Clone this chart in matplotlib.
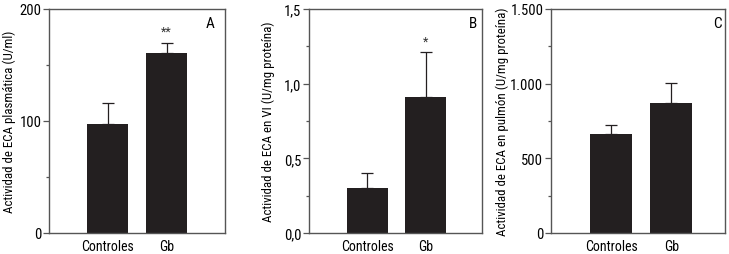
import matplotlib
matplotlib.use("Agg")
import matplotlib.pyplot as plt
from matplotlib.ticker import FixedLocator

plt.rcParams['font.family'] = ['Roboto Condensed', 'DejaVu Sans']

groups = ["Controles", "Gb"]

plasma_vals = [97, 161]
plasma_err = [19, 9]

vi_vals = [0.30, 0.91]
vi_err = [0.10, 0.30]

lung_vals = [665, 870]
lung_err = [56, 134]

panels = [
    dict(vals=plasma_vals, err=plasma_err, ylim=200, major=[0, 100, 200],
         minor=[50, 150], labels=["0", "100", "200"], stars=["", "**"],
         letter="A", letter_x=0.915, label_x=-0.19,
         ylabel="Actividad de ECA plasmática (U/ml)",
         rect=[0.0672, 0.0824, 0.2414, 0.8784], xlim=(-1.0, 1.99)),
    dict(vals=vi_vals, err=vi_err, ylim=1.5, major=[0, 0.5, 1.0, 1.5],
         minor=[0.25, 0.75, 1.25], labels=["0,0", "0,5", "1,0", "1,5"],
         stars=["", "*"], letter="B", letter_x=0.945, label_x=-0.197,
         ylabel="Actividad de ECA en VI (U/mg proteína)",
         rect=[0.4239, 0.0824, 0.2373, 0.8784], xlim=(-1.0, 1.96)),
    dict(vals=lung_vals, err=lung_err, ylim=1500, major=[0, 500, 1000, 1500],
         minor=[250, 750, 1250], labels=["0", "500", "1.000", "1.500"],
         stars=["", ""], letter="C", letter_x=0.955, label_x=-0.24,
         ylabel="Actividad de ECA en pulmón (U/mg proteína)",
         rect=[0.7558, 0.0824, 0.2387, 0.8784], xlim=(-1.0, 1.89)),
]

fig = plt.figure(figsize=(7.29, 2.55), dpi=100)
bar_color = "#231f20"
frame = "#555555"

for p in panels:
    ax = fig.add_axes(p["rect"])
    x = range(len(groups))
    ax.bar(x, p["vals"], width=0.70, color=bar_color, zorder=2)
    ax.errorbar(x, p["vals"], yerr=[[0, 0], p["err"]], fmt="none",
                ecolor=bar_color, elinewidth=0.9, capsize=4, capthick=0.9,
                zorder=1)
    for xi, v, e, s in zip(x, p["vals"], p["err"], p["stars"]):
        if s:
            ax.text(xi, v + e + p["ylim"] * 0.02, s, ha="center", va="bottom",
                    fontsize=9, color="#333333")
    ax.set_xlim(*p["xlim"])
    ax.set_ylim(0, p["ylim"])
    ax.set_xticks(list(x))
    ax.set_xticklabels(groups, fontsize=10)
    ax.tick_params(axis="x", length=0, pad=4)
    ax.yaxis.set_major_locator(FixedLocator(p["major"]))
    ax.yaxis.set_minor_locator(FixedLocator(p["minor"]))
    ax.set_yticklabels(p["labels"], fontsize=10.5)
    ax.tick_params(axis="y", which="major", length=4, width=0.9, color=frame, pad=1.5)
    ax.tick_params(axis="y", which="minor", length=2.5, width=0.9, color=frame)
    for sp in ax.spines.values():
        sp.set_color(frame)
        sp.set_linewidth(1.0)
    ax.set_ylabel(p["ylabel"], fontsize=9.3)
    ax.yaxis.set_label_coords(p["label_x"], 0.5)
    ax.text(p["letter_x"], 0.97, p["letter"], transform=ax.transAxes,
            ha="center", va="top", fontsize=11)

fig.savefig("out.png", dpi=100)
